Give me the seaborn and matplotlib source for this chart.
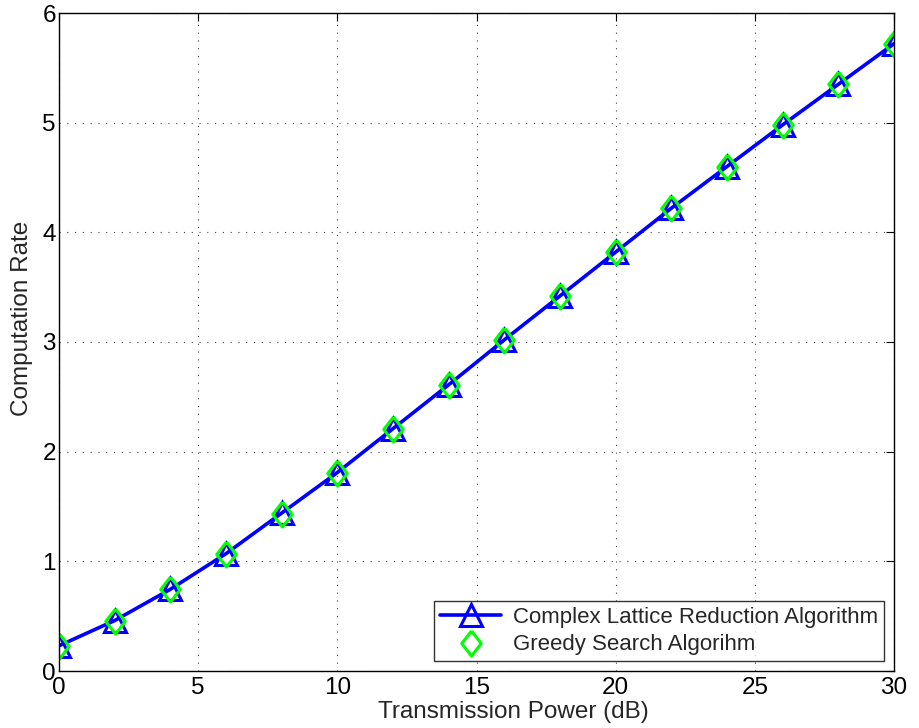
import matplotlib
matplotlib.use("Agg")
import matplotlib.pyplot as plt
import seaborn as sns

# ---- data ----
power_db = [0, 2, 4, 6, 8, 10, 12, 14, 16, 18, 20, 22, 24, 26, 28, 30]
rate_lattice = [0.23, 0.46, 0.745, 1.07, 1.44, 1.81, 2.21, 2.61, 3.02, 3.42, 3.82, 4.22, 4.60, 4.98, 5.35, 5.72]
rate_greedy = [0.23, 0.455, 0.745, 1.07, 1.435, 1.81, 2.21, 2.61, 3.02, 3.42, 3.82, 4.22, 4.60, 4.98, 5.35, 5.715]
label_lattice = "Complex Lattice Reduction Algorithm"
label_greedy = "Greedy Search Algorihm"
xticks = [0, 5, 10, 15, 20, 25, 30]
yticks = [0, 1, 2, 3, 4, 5, 6]

sns.set_style("white")
plt.rcParams['font.family'] = ['Liberation Sans', 'DejaVu Sans']

fig = plt.figure(figsize=(9.19, 7.28), dpi=100)
ax = fig.add_axes([59/919, 1-671/728, (894-59)/919, (671-13)/728])

diamond = [(0, 1), (0.78, 0), (0, -1), (-0.78, 0), (0, 1)]

sns.lineplot(x=power_db, y=rate_lattice, ax=ax, color=(0, 0, 1), linewidth=2.6,
             marker='^', markersize=16, markerfacecolor='none',
             markeredgecolor=(0, 0, 1), markeredgewidth=2.2, label=label_lattice)
sns.lineplot(x=power_db, y=rate_greedy, ax=ax, color=(0, 1, 0), linestyle='none',
             marker=diamond, markersize=18, markerfacecolor='none',
             markeredgecolor=(0, 1, 0), markeredgewidth=2.2, label=label_greedy)

ax.set_xlim(0, 30)
ax.set_ylim(0, 6)
ax.set_xticks(xticks)
ax.set_yticks(yticks)
ax.set_xticklabels([str(t) for t in xticks])
ax.set_yticklabels([str(t) for t in yticks])

ax.grid(True, linestyle=(0, (1, 6)), color='#444444', linewidth=0.8)
ax.set_axisbelow(True)

for s in ax.spines.values():
    s.set_visible(True)
    s.set_color('black')
    s.set_linewidth(1.0)

ax.tick_params(axis='both', direction='in', length=6, width=0.8, labelsize=17.5,
               top=True, right=True, colors='black')
ax.tick_params(axis='x', pad=4)
ax.tick_params(axis='y', pad=2.2)

ax.set_xlabel("Transmission Power (dB)", fontsize=17.5)
ax.xaxis.set_label_coords((513-59)/835, -(701-671)/658)
ax.set_ylabel("Computation Rate", fontsize=17.5)
ax.yaxis.set_label_coords((33-59)/835, (671-318)/658)

leg = ax.legend(loc='lower right', bbox_to_anchor=((884-59)/835, 10/658), borderaxespad=0,
                fontsize=16, frameon=True, fancybox=False, handlelength=2.75,
                handletextpad=0.55, borderpad=0.25, labelspacing=0.3)
leg.get_frame().set_edgecolor('black')
leg.get_frame().set_linewidth(1.0)

fig.savefig("out.png", dpi=100)
